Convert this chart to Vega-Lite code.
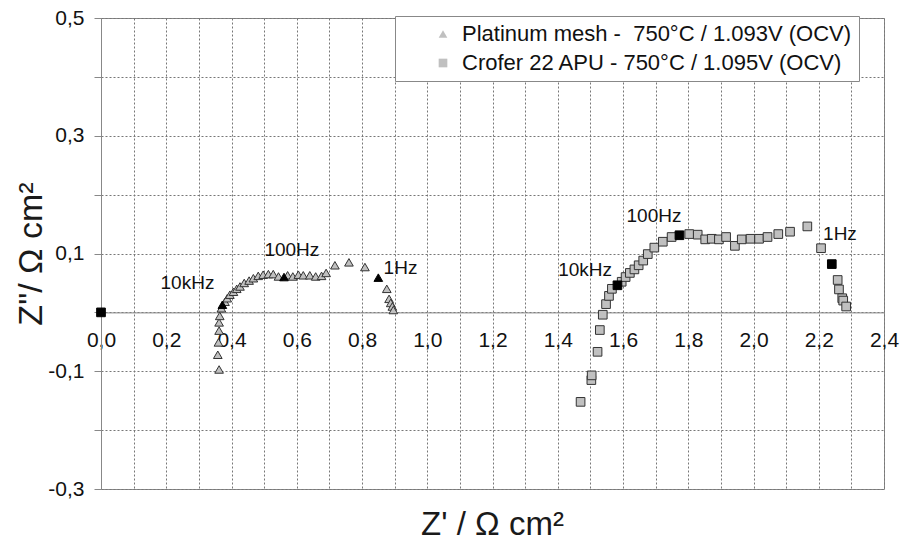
{
  "$schema": "https://vega.github.io/schema/vega-lite/v6.json",
  "width": 783,
  "height": 471,
  "autosize": {"type": "none"},
  "padding": {"left": 101, "top": 18, "right": 17, "bottom": 61},
  "background": "white",
  "title": {"text": "Z' / Ω cm²", "orient": "bottom", "anchor": "middle", "offset": 10, "fontSize": 33, "font": "Liberation Sans", "fontWeight": "normal", "color": "#1a1a1a"},
  "config": {"view": {"stroke": "#888", "strokeWidth": 1}, "font": "Liberation Sans"},
  "datasets": {
    "pts": [
      {"series": "Platinum mesh - \u00a0750°C / 1.093V (OCV)", "z": 0.362, "zi": -0.097},
      {"series": "Platinum mesh - \u00a0750°C / 1.093V (OCV)", "z": 0.358, "zi": -0.072},
      {"series": "Platinum mesh - \u00a0750°C / 1.093V (OCV)", "z": 0.360, "zi": -0.051},
      {"series": "Platinum mesh - \u00a0750°C / 1.093V (OCV)", "z": 0.362, "zi": -0.031},
      {"series": "Platinum mesh - \u00a0750°C / 1.093V (OCV)", "z": 0.362, "zi": -0.017},
      {"series": "Platinum mesh - \u00a0750°C / 1.093V (OCV)", "z": 0.364, "zi": -0.006},
      {"series": "Platinum mesh - \u00a0750°C / 1.093V (OCV)", "z": 0.369, "zi": 0.007},
      {"series": "Platinum mesh - \u00a0750°C / 1.093V (OCV)", "z": 0.380, "zi": 0.018},
      {"series": "Platinum mesh - \u00a0750°C / 1.093V (OCV)", "z": 0.387, "zi": 0.024},
      {"series": "Platinum mesh - \u00a0750°C / 1.093V (OCV)", "z": 0.395, "zi": 0.030},
      {"series": "Platinum mesh - \u00a0750°C / 1.093V (OCV)", "z": 0.406, "zi": 0.035},
      {"series": "Platinum mesh - \u00a0750°C / 1.093V (OCV)", "z": 0.416, "zi": 0.040},
      {"series": "Platinum mesh - \u00a0750°C / 1.093V (OCV)", "z": 0.426, "zi": 0.044},
      {"series": "Platinum mesh - \u00a0750°C / 1.093V (OCV)", "z": 0.439, "zi": 0.050},
      {"series": "Platinum mesh - \u00a0750°C / 1.093V (OCV)", "z": 0.454, "zi": 0.054},
      {"series": "Platinum mesh - \u00a0750°C / 1.093V (OCV)", "z": 0.467, "zi": 0.058},
      {"series": "Platinum mesh - \u00a0750°C / 1.093V (OCV)", "z": 0.482, "zi": 0.062},
      {"series": "Platinum mesh - \u00a0750°C / 1.093V (OCV)", "z": 0.497, "zi": 0.064},
      {"series": "Platinum mesh - \u00a0750°C / 1.093V (OCV)", "z": 0.513, "zi": 0.065},
      {"series": "Platinum mesh - \u00a0750°C / 1.093V (OCV)", "z": 0.528, "zi": 0.065},
      {"series": "Platinum mesh - \u00a0750°C / 1.093V (OCV)", "z": 0.544, "zi": 0.061},
      {"series": "Platinum mesh - \u00a0750°C / 1.093V (OCV)", "z": 0.572, "zi": 0.063},
      {"series": "Platinum mesh - \u00a0750°C / 1.093V (OCV)", "z": 0.588, "zi": 0.061},
      {"series": "Platinum mesh - \u00a0750°C / 1.093V (OCV)", "z": 0.605, "zi": 0.064},
      {"series": "Platinum mesh - \u00a0750°C / 1.093V (OCV)", "z": 0.620, "zi": 0.063},
      {"series": "Platinum mesh - \u00a0750°C / 1.093V (OCV)", "z": 0.640, "zi": 0.063},
      {"series": "Platinum mesh - \u00a0750°C / 1.093V (OCV)", "z": 0.658, "zi": 0.061},
      {"series": "Platinum mesh - \u00a0750°C / 1.093V (OCV)", "z": 0.676, "zi": 0.062},
      {"series": "Platinum mesh - \u00a0750°C / 1.093V (OCV)", "z": 0.690, "zi": 0.067},
      {"series": "Platinum mesh - \u00a0750°C / 1.093V (OCV)", "z": 0.717, "zi": 0.080},
      {"series": "Platinum mesh - \u00a0750°C / 1.093V (OCV)", "z": 0.760, "zi": 0.085},
      {"series": "Platinum mesh - \u00a0750°C / 1.093V (OCV)", "z": 0.809, "zi": 0.077},
      {"series": "Platinum mesh - \u00a0750°C / 1.093V (OCV)", "z": 0.876, "zi": 0.040},
      {"series": "Platinum mesh - \u00a0750°C / 1.093V (OCV)", "z": 0.883, "zi": 0.023},
      {"series": "Platinum mesh - \u00a0750°C / 1.093V (OCV)", "z": 0.888, "zi": 0.016},
      {"series": "Platinum mesh - \u00a0750°C / 1.093V (OCV)", "z": 0.893, "zi": 0.010},
      {"series": "Platinum mesh - \u00a0750°C / 1.093V (OCV)", "z": 0.896, "zi": 0.004},
      {"series": "Crofer 22 APU - 750°C / 1.095V (OCV)", "z": 1.470, "zi": -0.152},
      {"series": "Crofer 22 APU - 750°C / 1.095V (OCV)", "z": 1.503, "zi": -0.115},
      {"series": "Crofer 22 APU - 750°C / 1.095V (OCV)", "z": 1.504, "zi": -0.107},
      {"series": "Crofer 22 APU - 750°C / 1.095V (OCV)", "z": 1.522, "zi": -0.067},
      {"series": "Crofer 22 APU - 750°C / 1.095V (OCV)", "z": 1.529, "zi": -0.030},
      {"series": "Crofer 22 APU - 750°C / 1.095V (OCV)", "z": 1.538, "zi": -0.004},
      {"series": "Crofer 22 APU - 750°C / 1.095V (OCV)", "z": 1.548, "zi": 0.014},
      {"series": "Crofer 22 APU - 750°C / 1.095V (OCV)", "z": 1.557, "zi": 0.028},
      {"series": "Crofer 22 APU - 750°C / 1.095V (OCV)", "z": 1.566, "zi": 0.040},
      {"series": "Crofer 22 APU - 750°C / 1.095V (OCV)", "z": 1.596, "zi": 0.052},
      {"series": "Crofer 22 APU - 750°C / 1.095V (OCV)", "z": 1.608, "zi": 0.060},
      {"series": "Crofer 22 APU - 750°C / 1.095V (OCV)", "z": 1.621, "zi": 0.067},
      {"series": "Crofer 22 APU - 750°C / 1.095V (OCV)", "z": 1.635, "zi": 0.073},
      {"series": "Crofer 22 APU - 750°C / 1.095V (OCV)", "z": 1.648, "zi": 0.080},
      {"series": "Crofer 22 APU - 750°C / 1.095V (OCV)", "z": 1.662, "zi": 0.088},
      {"series": "Crofer 22 APU - 750°C / 1.095V (OCV)", "z": 1.676, "zi": 0.099},
      {"series": "Crofer 22 APU - 750°C / 1.095V (OCV)", "z": 1.696, "zi": 0.110},
      {"series": "Crofer 22 APU - 750°C / 1.095V (OCV)", "z": 1.722, "zi": 0.120},
      {"series": "Crofer 22 APU - 750°C / 1.095V (OCV)", "z": 1.749, "zi": 0.128},
      {"series": "Crofer 22 APU - 750°C / 1.095V (OCV)", "z": 1.803, "zi": 0.133},
      {"series": "Crofer 22 APU - 750°C / 1.095V (OCV)", "z": 1.829, "zi": 0.132},
      {"series": "Crofer 22 APU - 750°C / 1.095V (OCV)", "z": 1.852, "zi": 0.124},
      {"series": "Crofer 22 APU - 750°C / 1.095V (OCV)", "z": 1.872, "zi": 0.125},
      {"series": "Crofer 22 APU - 750°C / 1.095V (OCV)", "z": 1.894, "zi": 0.124},
      {"series": "Crofer 22 APU - 750°C / 1.095V (OCV)", "z": 1.916, "zi": 0.128},
      {"series": "Crofer 22 APU - 750°C / 1.095V (OCV)", "z": 1.943, "zi": 0.113},
      {"series": "Crofer 22 APU - 750°C / 1.095V (OCV)", "z": 1.964, "zi": 0.124},
      {"series": "Crofer 22 APU - 750°C / 1.095V (OCV)", "z": 1.991, "zi": 0.125},
      {"series": "Crofer 22 APU - 750°C / 1.095V (OCV)", "z": 2.017, "zi": 0.125},
      {"series": "Crofer 22 APU - 750°C / 1.095V (OCV)", "z": 2.043, "zi": 0.128},
      {"series": "Crofer 22 APU - 750°C / 1.095V (OCV)", "z": 2.076, "zi": 0.133},
      {"series": "Crofer 22 APU - 750°C / 1.095V (OCV)", "z": 2.112, "zi": 0.137},
      {"series": "Crofer 22 APU - 750°C / 1.095V (OCV)", "z": 2.165, "zi": 0.146},
      {"series": "Crofer 22 APU - 750°C / 1.095V (OCV)", "z": 2.207, "zi": 0.109},
      {"series": "Crofer 22 APU - 750°C / 1.095V (OCV)", "z": 2.258, "zi": 0.055},
      {"series": "Crofer 22 APU - 750°C / 1.095V (OCV)", "z": 2.262, "zi": 0.039},
      {"series": "Crofer 22 APU - 750°C / 1.095V (OCV)", "z": 2.272, "zi": 0.024},
      {"series": "Crofer 22 APU - 750°C / 1.095V (OCV)", "z": 2.275, "zi": 0.020},
      {"series": "Crofer 22 APU - 750°C / 1.095V (OCV)", "z": 2.284, "zi": 0.010}
    ],
    "markers": [
      {"series": "Platinum mesh - \u00a0750°C / 1.093V (OCV)", "z": 0.372, "zi": 0.013},
      {"series": "Platinum mesh - \u00a0750°C / 1.093V (OCV)", "z": 0.561, "zi": 0.060},
      {"series": "Platinum mesh - \u00a0750°C / 1.093V (OCV)", "z": 0.850, "zi": 0.059},
      {"series": "Crofer 22 APU - 750°C / 1.095V (OCV)", "z": 0.0, "zi": 0.0},
      {"series": "Crofer 22 APU - 750°C / 1.095V (OCV)", "z": 1.583, "zi": 0.046},
      {"series": "Crofer 22 APU - 750°C / 1.095V (OCV)", "z": 1.773, "zi": 0.131},
      {"series": "Crofer 22 APU - 750°C / 1.095V (OCV)", "z": 2.240, "zi": 0.082}
    ],
    "labels": [
      {"label": "10kHz", "z": 0.265, "zi": 0.050},
      {"label": "100Hz", "z": 0.585, "zi": 0.106},
      {"label": "1Hz", "z": 0.918, "zi": 0.076},
      {"label": "10kHz", "z": 1.484, "zi": 0.072},
      {"label": "100Hz", "z": 1.695, "zi": 0.164},
      {"label": "1Hz", "z": 2.265, "zi": 0.133}
    ]
  },
  "resolve": {"axis": {"x": "independent"}},
  "layer": [
    {
      "data": {"name": "pts"},
      "mark": {"type": "point", "filled": true, "fill": "#c0c0c0", "stroke": "#333", "strokeWidth": 1, "size": 75, "opacity": 1},
      "encoding": {
        "x": {
          "field": "z", "type": "quantitative",
          "scale": {"domain": [0, 2.4], "nice": false, "zero": false},
          "axis": {
            "orient": "bottom",
            "title": null,
            "values": [0, 0.1, 0.2, 0.3, 0.4, 0.5, 0.6, 0.7, 0.8, 0.9, 1.0, 1.1, 1.2, 1.3, 1.4, 1.5, 1.6, 1.7, 1.8, 1.9, 2.0, 2.1, 2.2, 2.3, 2.4],
            "labels": false,
            "ticks": false,
            "domain": false,
            "grid": true, "gridColor": "#777", "gridDash": [2, 2]
          }
        },
        "y": {
          "field": "zi", "type": "quantitative",
          "scale": {"domain": [-0.3, 0.5], "nice": false, "zero": false},
          "axis": {
            "title": "Z\"/ Ω cm²",
            "values": [-0.3, -0.2, -0.1, 0, 0.1, 0.2, 0.3, 0.4, 0.5],
            "labelExpr": "abs(round(datum.value*10))%2==1 ? replace(replace(format(datum.value,'.1f'),'.',','),'\u2212','-') : ''",
            "tickSize": 7, "tickColor": "#888", "domainColor": "#888",
            "grid": true, "gridColor": "#777", "gridDash": [2, 2],
            "labelFontSize": 21, "labelPadding": 10, "labelColor": "#111",
            "labelFlush": false, "labelOverlap": false, "labelBound": false,
            "titleFontSize": 34, "titleFontWeight": "normal", "titleColor": "#1a1a1a", "titlePadding": -1
          }
        },
        "shape": {
          "field": "series", "type": "nominal",
          "scale": {"domain": ["Platinum mesh - \u00a0750°C / 1.093V (OCV)", "Crofer 22 APU - 750°C / 1.095V (OCV)"], "range": ["triangle-up", "square"]},
          "legend": {
            "title": null, "orient": "none", "legendX": 294, "legendY": -2,
            "fillColor": "white", "strokeColor": "#888", "padding": 7,
            "symbolOffset": 30, "labelFontSize": 22, "labelColor": "#111",
            "rowPadding": 7, "symbolSize": 75, "symbolFillColor": "#b8b8b8",
            "symbolStrokeColor": "#333", "symbolStrokeWidth": 1, "symbolType": "circle",
            "labelLimit": 700, "labelOffset": 8
          }
        }
      }
    },
    {
      "data": {"name": "markers"},
      "mark": {"type": "point", "filled": true, "fill": "#000", "stroke": "#000", "strokeWidth": 1, "size": 75, "opacity": 1},
      "encoding": {
        "x": {"field": "z", "type": "quantitative", "axis": null},
        "y": {"field": "zi", "type": "quantitative"},
        "shape": {"field": "series", "type": "nominal", "legend": null}
      }
    },
    {
      "data": {"name": "labels"},
      "mark": {"type": "text", "fontSize": 19, "color": "#111", "font": "Liberation Sans"},
      "encoding": {
        "x": {
          "field": "z", "type": "quantitative",
          "axis": {
            "orient": "bottom",
            "title": null,
            "values": [0, 0.2, 0.4, 0.6, 0.8, 1.0, 1.2, 1.4, 1.6, 1.8, 2.0, 2.2, 2.4],
            "labelExpr": "replace(format(datum.value,'.1f'),'.',',')",
            "offset": -176.6,
            "ticks": false,
            "domainColor": "#888",
            "grid": false,
            "labelFontSize": 21, "labelPadding": 17, "labelColor": "#111",
            "labelFlush": false, "labelOverlap": false, "labelBound": false
          }
        },
        "y": {"field": "zi", "type": "quantitative"},
        "text": {"field": "label"}
      }
    }
  ]
}
